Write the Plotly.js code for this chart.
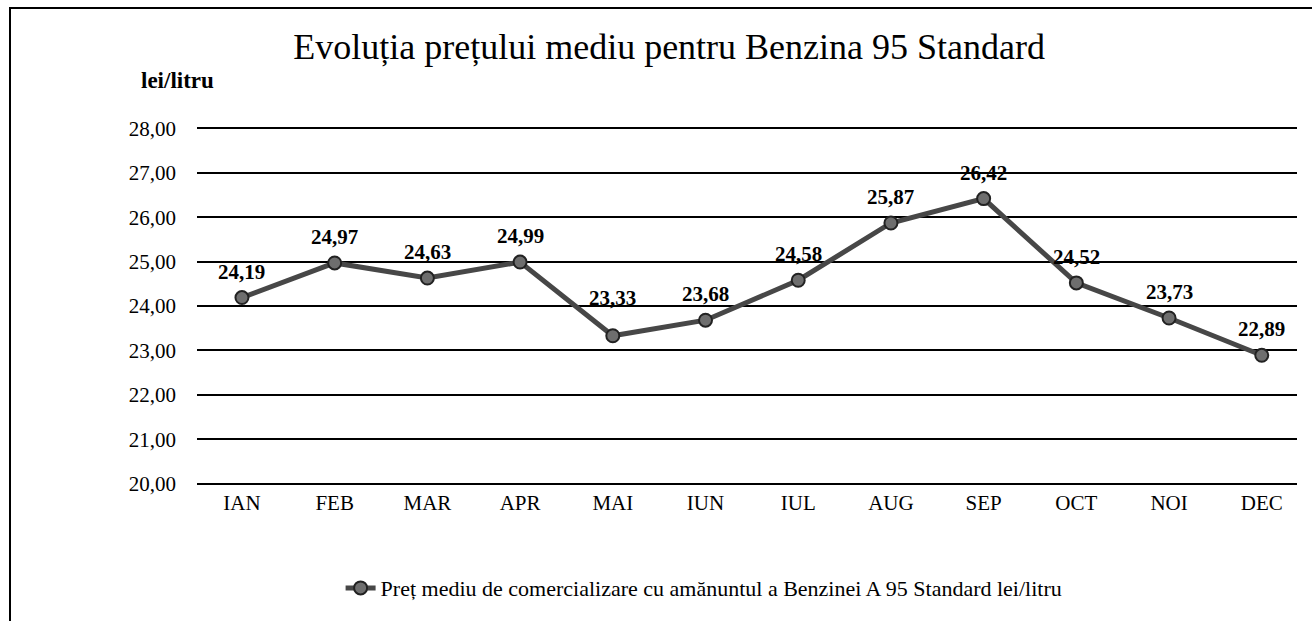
<!DOCTYPE html>
<html>
<head>
<meta charset="utf-8">
<script src="https://cdn.plot.ly/plotly-3.0.1.min.js"></script>
<style>
  body { margin: 0; background: #fff; }
  #chart { width: 1312px; height: 621px; position: absolute; left: 0; top: 0; }
  #frame { position: absolute; left: 9px; top: 7px; width: 1310px; height: 620px;
           border-left: 2px solid #000; border-top: 2px solid #000; pointer-events: none; }
</style>
</head>
<body>
<div id="chart"></div>
<div id="frame"></div>
<script>
// Data
var months = ["IAN", "FEB", "MAR", "APR", "MAI", "IUN", "IUL", "AUG", "SEP", "OCT", "NOI", "DEC"];
var prices = [24.19, 24.97, 24.63, 24.99, 23.33, 23.68, 24.58, 25.87, 26.42, 24.52, 23.73, 22.89];
var yTicks = [20, 21, 22, 23, 24, 25, 26, 27, 28];

var serif = "Liberation Serif";

var data = [{
  x: months,
  y: prices,
  type: "scatter",
  mode: "lines+markers",
  name: "Preț mediu de comercializare cu amănuntul a Benzinei A 95 Standard lei/litru",
  line: { color: "#474747", width: 5 },
  marker: { size: 13, color: "#6e6e6e", line: { color: "#222", width: 2 } },
  cliponaxis: false
}];

// value labels above each point, placed on the data axes
var labels = prices.map(function (v, i) {
  return {
    x: months[i], y: v, xref: "x", yref: "y",
    text: "<b>" + v.toFixed(2).replace(".", ",") + "</b>",
    showarrow: false,
    yanchor: "bottom", xanchor: "center",
    yshift: months[i] === "MAI" ? 24 : 12,
    font: { family: serif, size: 21, color: "#000" }
  };
});

labels.push({
  text: "<b>lei/litru</b>",
  xref: "paper", yref: "paper",
  x: -0.018, y: 1.12,
  xanchor: "center", yanchor: "middle",
  showarrow: false,
  font: { family: serif, size: 23, color: "#000" }
});

var layout = {
  width: 1312,
  height: 621,
  separators: ",.",
  paper_bgcolor: "#fff",
  plot_bgcolor: "#fff",
  margin: { l: 197, r: 15, t: 124, b: 129 },
  font: { family: serif, color: "#000" },
  title: {
    text: "Evoluția prețului mediu pentru Benzina 95 Standard",
    font: { family: serif, size: 36, color: "#000" },
    x: 0.51, xanchor: "center", y: 0.925, yanchor: "middle"
  },
  xaxis: {
    type: "category",
    range: [-0.485, 11.38],
    showgrid: false,
    zeroline: false,
    showline: false,
    ticks: "",
    tickfont: { family: serif, size: 21 },
    ticklabelstandoff: 0
  },
  yaxis: {
    range: [19.9, 28.1],
    tickvals: yTicks,
    tickformat: ".2f",
    showgrid: true,
    gridcolor: "#000",
    gridwidth: 1.5,
    zeroline: false,
    showline: false,
    ticks: "",
    tickfont: { family: serif, size: 21 },
    ticklabelstandoff: 20
  },
  showlegend: true,
  legend: {
    orientation: "h",
    x: 0.461, xanchor: "center",
    y: -0.275, yanchor: "middle",
    font: { family: serif, size: 22 }
  },
  annotations: labels
};

Plotly.newPlot("chart", data, layout, { displayModeBar: false });
</script>
</body>
</html>
